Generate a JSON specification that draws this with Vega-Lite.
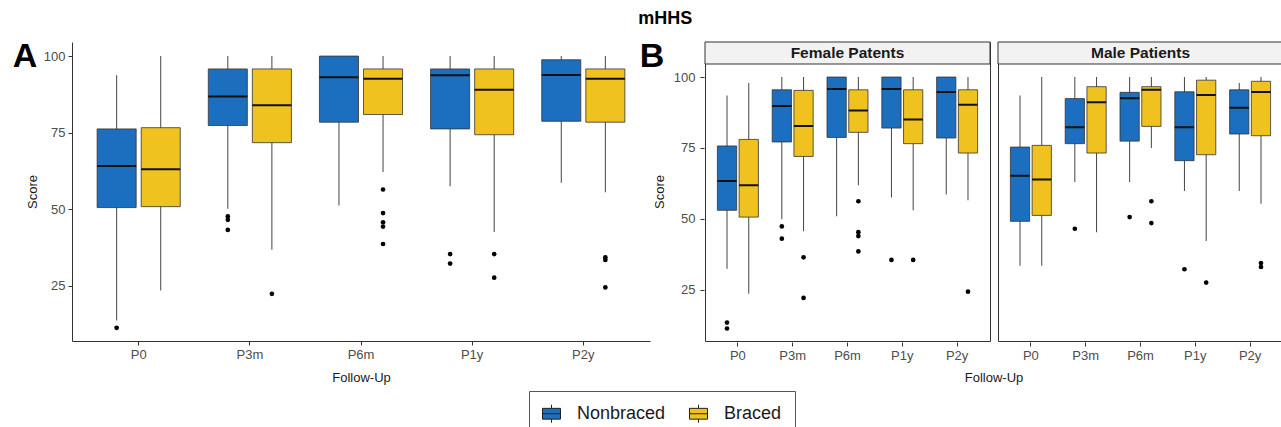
{
  "$schema": "https://vega.github.io/schema/vega-lite/v6.json",
  "padding": {"left": 12, "top": 9, "right": 0, "bottom": 0},
  "background": "white",
  "title": {"text": "mHHS", "fontSize": 18, "fontWeight": "bold", "font": "Liberation Sans", "color": "#000", "anchor": "middle", "dx": 17, "offset": 12},
  "datasets": {
    "boxA": [
      {"f": "P0", "g": "Nonbraced", "lo": 13.6, "q1": 50.5, "med": 64.1, "q3": 76.2, "hi": 93.7},
      {"f": "P0", "g": "Braced", "lo": 23.4, "q1": 50.8, "med": 63.0, "q3": 76.6, "hi": 100},
      {"f": "P3m", "g": "Nonbraced", "lo": 50.1, "q1": 77.3, "med": 86.8, "q3": 95.8, "hi": 100},
      {"f": "P3m", "g": "Braced", "lo": 36.7, "q1": 71.7, "med": 83.9, "q3": 95.8, "hi": 100},
      {"f": "P6m", "g": "Nonbraced", "lo": 51.2, "q1": 78.4, "med": 93.1, "q3": 100, "hi": 100},
      {"f": "P6m", "g": "Braced", "lo": 62.1, "q1": 80.9, "med": 92.6, "q3": 95.8, "hi": 100},
      {"f": "P1y", "g": "Nonbraced", "lo": 57.5, "q1": 76.2, "med": 93.7, "q3": 95.8, "hi": 100},
      {"f": "P1y", "g": "Braced", "lo": 42.5, "q1": 74.3, "med": 89.0, "q3": 95.8, "hi": 100},
      {"f": "P2y", "g": "Nonbraced", "lo": 58.6, "q1": 78.7, "med": 93.8, "q3": 98.8, "hi": 100},
      {"f": "P2y", "g": "Braced", "lo": 55.5, "q1": 78.4, "med": 92.6, "q3": 95.8, "hi": 100}
    ],
    "outA": [
      {"f": "P0", "g": "Nonbraced", "v": 11.2},
      {"f": "P3m", "g": "Nonbraced", "v": 47.6},
      {"f": "P3m", "g": "Nonbraced", "v": 46.5},
      {"f": "P3m", "g": "Nonbraced", "v": 43.2},
      {"f": "P3m", "g": "Braced", "v": 22.3},
      {"f": "P6m", "g": "Braced", "v": 56.4},
      {"f": "P6m", "g": "Braced", "v": 48.7},
      {"f": "P6m", "g": "Braced", "v": 45.7},
      {"f": "P6m", "g": "Braced", "v": 44.3},
      {"f": "P6m", "g": "Braced", "v": 38.6},
      {"f": "P1y", "g": "Nonbraced", "v": 35.3},
      {"f": "P1y", "g": "Nonbraced", "v": 32.2},
      {"f": "P1y", "g": "Braced", "v": 35.3},
      {"f": "P1y", "g": "Braced", "v": 27.6},
      {"f": "P2y", "g": "Braced", "v": 34.2},
      {"f": "P2y", "g": "Braced", "v": 33.4},
      {"f": "P2y", "g": "Braced", "v": 24.4}
    ],
    "allB": [
      {"kind": "box", "sex": "Female Patents", "f": "P0", "g": "Nonbraced", "lo": 32.4, "q1": 53.0, "med": 63.3, "q3": 75.7, "hi": 93.5},
      {"kind": "box", "sex": "Female Patents", "f": "P0", "g": "Braced", "lo": 23.6, "q1": 50.6, "med": 61.8, "q3": 78.0, "hi": 97.9},
      {"kind": "box", "sex": "Female Patents", "f": "P3m", "g": "Nonbraced", "lo": 49.8, "q1": 77.1, "med": 89.8, "q3": 95.5, "hi": 100},
      {"kind": "box", "sex": "Female Patents", "f": "P3m", "g": "Braced", "lo": 45.6, "q1": 72.0, "med": 82.7, "q3": 95.3, "hi": 100},
      {"kind": "box", "sex": "Female Patents", "f": "P6m", "g": "Nonbraced", "lo": 50.9, "q1": 78.7, "med": 95.8, "q3": 100, "hi": 100},
      {"kind": "box", "sex": "Female Patents", "f": "P6m", "g": "Braced", "lo": 61.8, "q1": 80.5, "med": 88.2, "q3": 95.5, "hi": 100},
      {"kind": "box", "sex": "Female Patents", "f": "P1y", "g": "Nonbraced", "lo": 57.5, "q1": 82.0, "med": 95.8, "q3": 100, "hi": 100},
      {"kind": "box", "sex": "Female Patents", "f": "P1y", "g": "Braced", "lo": 53.0, "q1": 76.5, "med": 85.0, "q3": 95.5, "hi": 100},
      {"kind": "box", "sex": "Female Patents", "f": "P2y", "g": "Nonbraced", "lo": 58.6, "q1": 78.5, "med": 94.7, "q3": 100, "hi": 100},
      {"kind": "box", "sex": "Female Patents", "f": "P2y", "g": "Braced", "lo": 56.5, "q1": 73.2, "med": 90.2, "q3": 95.5, "hi": 100},
      {"kind": "box", "sex": "Male Patients", "f": "P0", "g": "Nonbraced", "lo": 33.4, "q1": 49.1, "med": 65.2, "q3": 75.3, "hi": 93.5},
      {"kind": "box", "sex": "Male Patients", "f": "P0", "g": "Braced", "lo": 33.4, "q1": 51.2, "med": 63.9, "q3": 75.9, "hi": 100},
      {"kind": "box", "sex": "Male Patients", "f": "P3m", "g": "Nonbraced", "lo": 63.0, "q1": 76.5, "med": 82.3, "q3": 92.4, "hi": 100},
      {"kind": "box", "sex": "Male Patients", "f": "P3m", "g": "Braced", "lo": 45.3, "q1": 73.2, "med": 91.1, "q3": 96.6, "hi": 100},
      {"kind": "box", "sex": "Male Patients", "f": "P6m", "g": "Nonbraced", "lo": 63.0, "q1": 77.4, "med": 92.5, "q3": 94.6, "hi": 100},
      {"kind": "box", "sex": "Male Patients", "f": "P6m", "g": "Braced", "lo": 75.0, "q1": 82.6, "med": 95.5, "q3": 96.6, "hi": 100},
      {"kind": "box", "sex": "Male Patients", "f": "P1y", "g": "Nonbraced", "lo": 59.8, "q1": 70.5, "med": 82.3, "q3": 94.8, "hi": 100},
      {"kind": "box", "sex": "Male Patients", "f": "P1y", "g": "Braced", "lo": 42.2, "q1": 72.6, "med": 93.7, "q3": 98.9, "hi": 100},
      {"kind": "box", "sex": "Male Patients", "f": "P2y", "g": "Nonbraced", "lo": 59.8, "q1": 79.9, "med": 89.2, "q3": 95.5, "hi": 97.9},
      {"kind": "box", "sex": "Male Patients", "f": "P2y", "g": "Braced", "lo": 55.3, "q1": 79.3, "med": 94.7, "q3": 98.5, "hi": 100},
      {"kind": "out", "sex": "Female Patents", "f": "P0", "g": "Nonbraced", "v": 13.4},
      {"kind": "out", "sex": "Female Patents", "f": "P0", "g": "Nonbraced", "v": 11.3},
      {"kind": "out", "sex": "Female Patents", "f": "P3m", "g": "Nonbraced", "v": 47.3},
      {"kind": "out", "sex": "Female Patents", "f": "P3m", "g": "Nonbraced", "v": 43.0},
      {"kind": "out", "sex": "Female Patents", "f": "P3m", "g": "Braced", "v": 36.4},
      {"kind": "out", "sex": "Female Patents", "f": "P3m", "g": "Braced", "v": 22.1},
      {"kind": "out", "sex": "Female Patents", "f": "P6m", "g": "Braced", "v": 56.2},
      {"kind": "out", "sex": "Female Patents", "f": "P6m", "g": "Braced", "v": 45.3},
      {"kind": "out", "sex": "Female Patents", "f": "P6m", "g": "Braced", "v": 43.9},
      {"kind": "out", "sex": "Female Patents", "f": "P6m", "g": "Braced", "v": 38.5},
      {"kind": "out", "sex": "Female Patents", "f": "P1y", "g": "Nonbraced", "v": 35.5},
      {"kind": "out", "sex": "Female Patents", "f": "P1y", "g": "Braced", "v": 35.5},
      {"kind": "out", "sex": "Female Patents", "f": "P2y", "g": "Braced", "v": 24.3},
      {"kind": "out", "sex": "Male Patients", "f": "P3m", "g": "Nonbraced", "v": 46.5},
      {"kind": "out", "sex": "Male Patients", "f": "P6m", "g": "Nonbraced", "v": 50.6},
      {"kind": "out", "sex": "Male Patients", "f": "P6m", "g": "Braced", "v": 56.2},
      {"kind": "out", "sex": "Male Patients", "f": "P6m", "g": "Braced", "v": 48.5},
      {"kind": "out", "sex": "Male Patients", "f": "P1y", "g": "Nonbraced", "v": 32.2},
      {"kind": "out", "sex": "Male Patients", "f": "P1y", "g": "Braced", "v": 27.5},
      {"kind": "out", "sex": "Male Patients", "f": "P2y", "g": "Braced", "v": 34.4},
      {"kind": "out", "sex": "Male Patients", "f": "P2y", "g": "Braced", "v": 33.0}
    ]
  },
  "spacing": -12,
  "resolve": {"scale": {"color": "shared", "xOffset": "independent"}, "legend": {"color": "shared"}},
  "hconcat": [
    {
      "width": 24,
      "height": 27,
      "view": {"stroke": null},
      "data": {"values": [{"lab": "A"}]},
      "mark": {"type": "text", "fontSize": 34, "fontWeight": 900, "font": "Liberation Sans", "color": "#000", "align": "center", "baseline": "middle", "dy": 1},
      "encoding": {"text": {"field": "lab"}}
    },
    {
      "width": 578,
      "height": 299,
      "view": {"stroke": null},
      "layer": [
        {
          "data": {"name": "boxA"},
          "mark": {"type": "bar", "size": 1, "color": "#444"},
          "encoding": {
            "x": {"field": "f", "type": "nominal", "sort": ["P0", "P3m", "P6m", "P1y", "P2y"], "scale": {"paddingInner": 0, "paddingOuter": 0.1}, "axis": {"title": "Follow-Up", "domain": true, "titlePadding": 10}},
            "xOffset": {"field": "g", "type": "nominal", "sort": ["Nonbraced", "Braced"], "scale": {"domain": ["Nonbraced", "Braced"], "paddingInner": 0.114, "paddingOuter": 0.318}},
            "y": {"field": "lo", "type": "quantitative", "title": "Score", "scale": {"domain": [6.9, 104.6], "nice": false, "zero": false}, "axis": {"values": [25, 50, 75, 100], "domain": true}},
            "y2": {"field": "hi"}
          }
        },
        {
          "data": {"name": "boxA"},
          "mark": {"type": "bar", "stroke": "#333", "strokeWidth": 0.8},
          "encoding": {
            "x": {"field": "f", "type": "nominal", "sort": ["P0", "P3m", "P6m", "P1y", "P2y"]},
            "xOffset": {"field": "g", "type": "nominal", "sort": ["Nonbraced", "Braced"]},
            "y": {"field": "q1", "type": "quantitative", "title": "Score"},
            "y2": {"field": "q3"},
            "color": {"field": "g", "type": "nominal", "scale": {"domain": ["Nonbraced", "Braced"], "range": ["#1C6EBF", "#EFC21F"]},
              "legend": {"orient": "none", "legendX": 516, "legendY": 349, "direction": "horizontal", "title": null}}
          }
        },
        {
          "data": {"name": "boxA"},
          "mark": {"type": "bar", "fill": "#111", "stroke": "#111", "strokeWidth": 2},
          "encoding": {
            "x": {"field": "f", "type": "nominal", "sort": ["P0", "P3m", "P6m", "P1y", "P2y"]},
            "xOffset": {"field": "g", "type": "nominal", "sort": ["Nonbraced", "Braced"]},
            "y": {"field": "med", "type": "quantitative", "title": "Score"},
            "y2": {"field": "med"}
          }
        },
        {
          "data": {"name": "outA"},
          "mark": {"type": "circle", "size": 22, "color": "#000", "opacity": 1},
          "encoding": {
            "x": {"field": "f", "type": "nominal", "sort": ["P0", "P3m", "P6m", "P1y", "P2y"]},
            "xOffset": {"field": "g", "type": "nominal", "sort": ["Nonbraced", "Braced"]},
            "y": {"field": "v", "type": "quantitative", "title": "Score"}
          }
        }
      ]
    },
    {
      "width": 4,
      "height": 27,
      "view": {"stroke": null},
      "data": {"values": [{"lab": "B"}]},
      "mark": {"type": "text", "fontSize": 34, "fontWeight": 900, "font": "Liberation Sans", "color": "#000", "align": "center", "baseline": "middle", "dy": 1},
      "encoding": {"text": {"field": "lab"}}
    },
    {
      "data": {"name": "allB"},
      "facet": {"column": {"field": "sex", "type": "nominal", "sort": ["Female Patents", "Male Patients"],
        "header": {"labels": false, "title": "Follow-Up", "titleOrient": "bottom", "titleFontSize": 13, "titleFont": "Liberation Sans", "titleFontWeight": "normal", "titleColor": "#1a1a1a", "titlePadding": 0}}},
      "spacing": 6,
      "resolve": {"scale": {"x": "shared"}},
      "spec": {
        "width": 285,
        "height": 299,
        "view": {"stroke": "#333", "strokeWidth": 1},
        "layer": [
          {
            "transform": [{"filter": "datum.kind == 'box' && datum.f == 'P0' && datum.g == 'Nonbraced'"}],
            "mark": {"type": "rect", "fill": "#f2f2f2", "stroke": "#333", "strokeWidth": 1},
            "encoding": {
              "y": {"datum": 104.6, "type": "quantitative", "title": "Score", "scale": {"domain": [6.9, 112.36], "nice": false, "zero": false}, "axis": {"values": [25, 50, 75, 100], "domain": false, "labelPadding": 5, "titlePadding": 7}},
              "y2": {"datum": 112.36}
            }
          },
          {
            "transform": [{"filter": "datum.kind == 'box' && datum.f == 'P0' && datum.g == 'Nonbraced'"}],
            "mark": {"type": "text", "fontWeight": "bold", "fontSize": 15.5, "font": "Liberation Sans", "color": "#1a1a1a"},
            "encoding": {
              "y": {"datum": 108.4, "type": "quantitative", "title": "Score"},
              "text": {"field": "sex"}
            }
          },
          {
            "transform": [{"filter": "datum.kind == 'box'"}],
            "mark": {"type": "bar", "size": 1, "color": "#444"},
            "encoding": {
              "x": {"field": "f", "type": "nominal", "sort": ["P0", "P3m", "P6m", "P1y", "P2y"], "scale": {"paddingInner": 0, "paddingOuter": 0.1}, "axis": {"title": null, "domain": false}},
              "xOffset": {"field": "g", "type": "nominal", "sort": ["Nonbraced", "Braced"], "scale": {"domain": ["Nonbraced", "Braced"], "paddingInner": 0.114, "paddingOuter": 0.318}},
              "y": {"field": "lo", "type": "quantitative", "title": "Score"},
              "y2": {"field": "hi"}
            }
          },
          {
            "transform": [{"filter": "datum.kind == 'box'"}],
            "mark": {"type": "bar", "stroke": "#333", "strokeWidth": 0.8},
            "encoding": {
              "x": {"field": "f", "type": "nominal", "sort": ["P0", "P3m", "P6m", "P1y", "P2y"]},
              "xOffset": {"field": "g", "type": "nominal", "sort": ["Nonbraced", "Braced"]},
              "y": {"field": "q1", "type": "quantitative", "title": "Score"},
              "y2": {"field": "q3"},
              "color": {"field": "g", "type": "nominal", "scale": {"domain": ["Nonbraced", "Braced"], "range": ["#1C6EBF", "#EFC21F"]},
                "legend": {"orient": "none", "legendX": 516, "legendY": 349, "direction": "horizontal", "title": null}}
            }
          },
          {
            "transform": [{"filter": "datum.kind == 'box'"}],
            "mark": {"type": "bar", "fill": "#111", "stroke": "#111", "strokeWidth": 2},
            "encoding": {
              "x": {"field": "f", "type": "nominal", "sort": ["P0", "P3m", "P6m", "P1y", "P2y"]},
              "xOffset": {"field": "g", "type": "nominal", "sort": ["Nonbraced", "Braced"]},
              "y": {"field": "med", "type": "quantitative", "title": "Score"},
              "y2": {"field": "med"}
            }
          },
          {
            "transform": [{"filter": "datum.kind == 'out'"}],
            "mark": {"type": "circle", "size": 22, "color": "#000", "opacity": 1},
            "encoding": {
              "x": {"field": "f", "type": "nominal", "sort": ["P0", "P3m", "P6m", "P1y", "P2y"]},
              "xOffset": {"field": "g", "type": "nominal", "sort": ["Nonbraced", "Braced"]},
              "y": {"field": "v", "type": "quantitative", "title": "Score"}
            }
          }
        ]
      }
    }
  ],
  "config": {
    "font": "Liberation Sans",
    "axis": {"grid": false, "domainColor": "#333", "domainWidth": 1, "tickColor": "#333", "tickSize": 4, "labelColor": "#4d4d4d", "labelFontSize": 13, "labelFont": "Liberation Sans", "titleFont": "Liberation Sans", "titleFontSize": 13, "titleFontWeight": "normal", "titleColor": "#1a1a1a", "labelPadding": 3},
    "axisX": {"labelAngle": 0, "titlePadding": 6},
    "axisY": {"titlePadding": 4},
    "legend": {
      "strokeColor": "#555",
      "fillColor": "white",
      "padding": 13,
      "labelFontSize": 18,
      "labelColor": "#1a1a1a",
      "labelFont": "Liberation Sans",
      "symbolSize": 324,
      "symbolType": "M-1,-0.6H1V0.6H-1Z M-1,0H1 M0,-0.6V-1 M0,0.6V1",
      "symbolStrokeColor": "#222",
      "symbolStrokeWidth": 1,
      "symbolOpacity": 1,
      "labelOffset": 16,
      "columnPadding": 21
    }
  }
}
